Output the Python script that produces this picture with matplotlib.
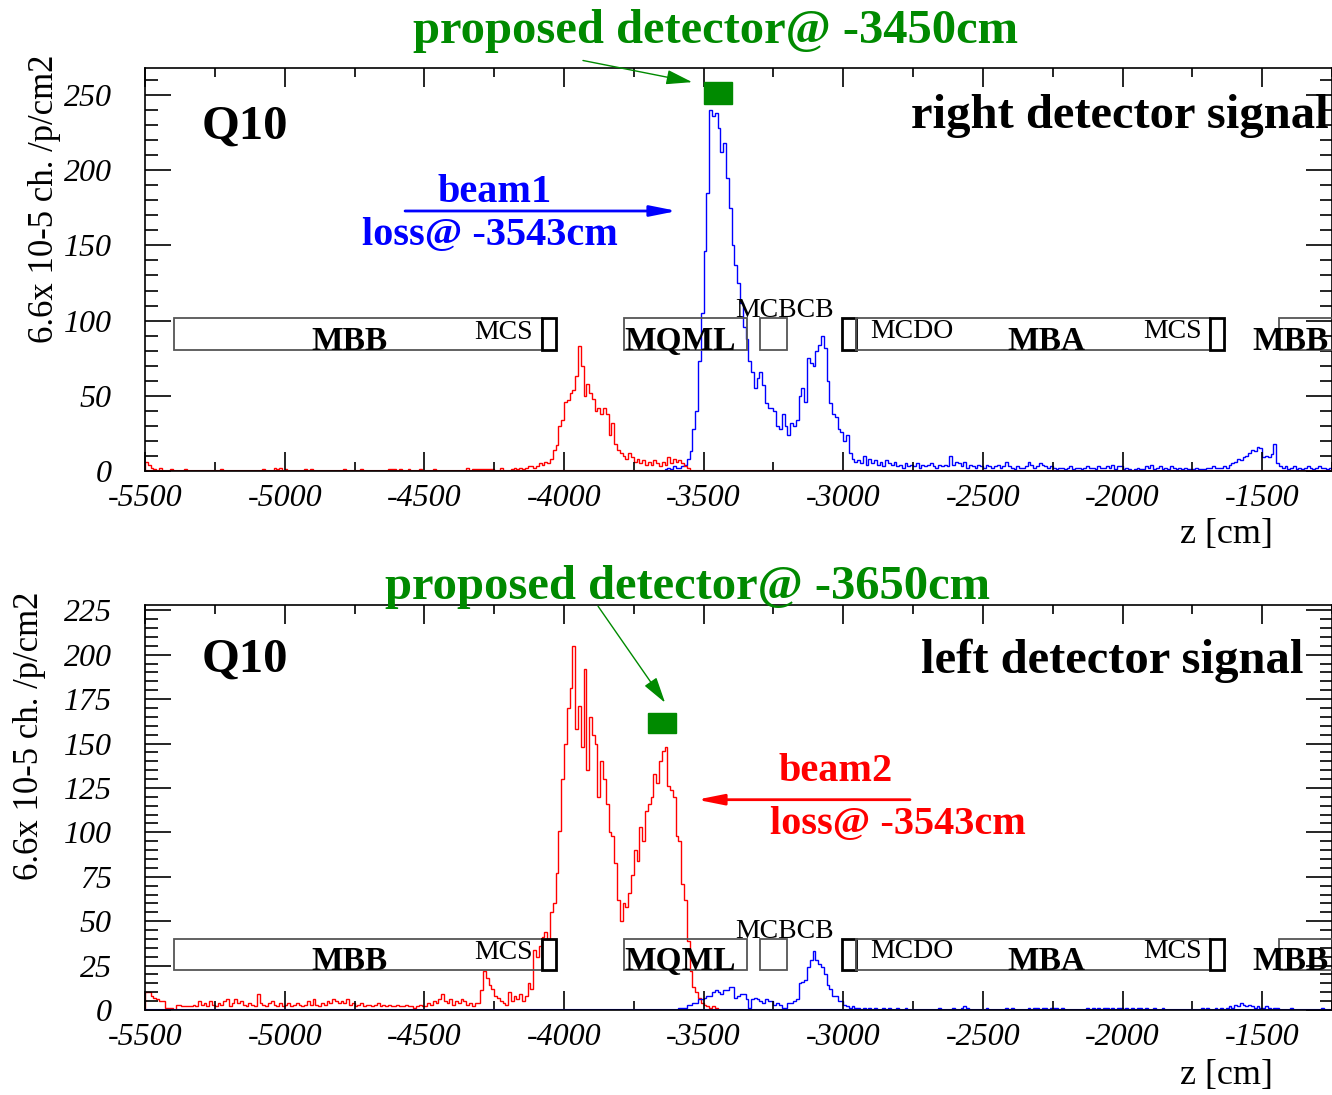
import numpy as np
import matplotlib.pyplot as plt
from matplotlib.patches import Rectangle
from matplotlib.ticker import MultipleLocator

plt.rcParams['font.family'] = ['Liberation Serif', 'DejaVu Serif']
plt.rcParams['axes.unicode_minus'] = False

# histogram bins along z, 10 cm wide
bin_w = 10
red_z0 = -5500
blue_z0 = -3650

# right detector, beam1 losses
red_top = [6, 4, 2, 1, 0, 2, 0, 0, 0, 1,
           0, 0, 0, 0, 1, 0, 0, 0, 0, 0,
           0, 0, 0, 0, 0, 0, 0, 1, 0, 0,
           0, 0, 0, 0, 0, 0, 0, 0, 0, 0,
           0, 0, 1, 0, 0, 0, 2, 1, 2, 0,
           1, 0, 0, 0, 0, 0, 0, 1, 0, 1,
           0, 0, 0, 0, 0, 0, 0, 0, 0, 0,
           0, 1, 0, 0, 0, 0, 0, 1, 0, 0,
           0, 0, 0, 0, 0, 0, 0, 1, 1, 1,
           0, 1, 0, 0, 1, 0, 0, 0, 1, 0,
           0, 0, 0, 1, 0, 0, 0, 0, 0, 0,
           0, 0, 0, 0, 0, 2, 0, 1, 1, 1,
           1, 1, 1, 1, 1, 0, 0, 2, 0, 0,
           0, 1, 2, 1, 2, 1, 2, 3, 3, 2,
           3, 5, 4, 6, 5, 8, 14, 17, 30, 34,
           46, 47, 52, 54, 63, 83, 70, 50, 58, 52,
           48, 40, 42, 38, 42, 38, 24, 32, 18, 14,
           12, 10, 8, 12, 9, 6, 8, 5, 7, 4,
           6, 4, 7, 5, 3, 6, 4, 9, 5, 8,
           6, 7, 5, 3, 2]
blue_top = [0, 1, 2, 1, 3, 2, 2, 3, 4, 8,
            13, 28, 40, 73, 105, 146, 185, 240, 236, 238,
            228, 212, 218, 195, 175, 150, 137, 125, 112, 96,
            88, 73, 66, 55, 62, 66, 57, 45, 42, 42,
            40, 30, 28, 38, 30, 24, 32, 30, 34, 50,
            55, 46, 75, 72, 70, 80, 84, 90, 82, 60,
            45, 38, 36, 28, 26, 20, 24, 12, 8, 6,
            7, 5, 10, 4, 8, 5, 7, 4, 6, 3,
            7, 5, 4, 6, 3, 4, 2, 5, 3, 4,
            3, 5, 2, 4, 3, 4, 5, 3, 2, 4,
            3, 4, 3, 10, 4, 6, 5, 3, 6, 2,
            4, 3, 2, 4, 3, 2, 4, 3, 2, 3,
            4, 2, 3, 6, 3, 2, 1, 3, 2, 2,
            3, 6, 4, 2, 3, 5, 4, 3, 2, 3,
            2, 1, 2, 2, 1, 2, 3, 1, 2, 2,
            1, 2, 3, 2, 2, 1, 3, 2, 2, 3,
            2, 4, 1, 3, 3, 1, 2, 1, 0, 1,
            2, 1, 1, 3, 2, 4, 1, 2, 3, 1,
            2, 1, 3, 2, 1, 2, 1, 2, 1, 1,
            1, 2, 1, 1, 1, 2, 2, 3, 2, 2,
            2, 3, 2, 4, 5, 6, 8, 7, 9, 10,
            12, 14, 13, 16, 15, 9, 10, 9, 11, 18,
            5, 3, 2, 3, 1, 2, 3, 1, 2, 1,
            2, 3, 2, 1, 2, 3, 2, 2, 1, 2]

# left detector, beam2 losses
red_bot = [10, 10, 8, 7, 6, 5, 5, 1, 1, 1,
           0, 3, 3, 2, 2, 2, 2, 3, 2, 5,
           3, 4, 2, 5, 3, 2, 4, 3, 5, 6,
           2, 4, 6, 4, 5, 3, 2, 4, 3, 2,
           9, 4, 3, 2, 4, 5, 3, 2, 4, 2,
           3, 4, 2, 3, 4, 3, 2, 3, 5, 3,
           6, 3, 2, 4, 3, 5, 4, 6, 5, 4,
           5, 4, 6, 3, 4, 2, 3, 4, 2, 3,
           3, 2, 3, 4, 2, 3, 2, 3, 2, 2,
           3, 2, 2, 3, 2, 2, 1, 2, 3, 2,
           2, 4, 3, 5, 4, 6, 9, 5, 4, 6,
           3, 5, 4, 6, 5, 3, 4, 2, 4, 4,
           11, 22, 18, 14, 12, 8, 7, 5, 4, 3,
           10, 5, 8, 6, 9, 5, 8, 15, 12, 34,
           30, 36, 41, 44, 40, 55, 60, 77, 101, 130,
           150, 170, 181, 205, 158, 171, 148, 192, 135, 165,
           155, 150, 120, 140, 130, 116, 100, 98, 83, 62,
           50, 60, 58, 66, 76, 90, 84, 103, 95, 112,
           116, 120, 133, 128, 140, 146, 148, 126, 124, 120,
           98, 95, 71, 62, 39, 22, 13, 10, 7, 4,
           3, 2, 1, 2, 1]
blue_bot = [0, 0, 0, 0, 0, 0, 1, 1, 1, 3,
            3, 4, 4, 6, 6, 7, 8, 8, 10, 11,
            10, 9, 11, 11, 13, 13, 7, 8, 9, 9,
            6, 1, 6, 7, 6, 5, 4, 6, 5, 5,
            3, 4, 3, 1, 1, 4, 4, 5, 6, 15,
            16, 17, 24, 28, 33, 28, 26, 24, 20, 14,
            12, 8, 8, 5, 5, 3, 2, 1, 2, 1,
            1, 0, 1, 0, 1, 0, 1, 0, 0, 1,
            0, 1, 0, 0, 1, 0, 0, 1, 0, 0,
            0, 0, 0, 0, 0, 0, 0, 0, 0, 1,
            0, 0, 0, 0, 1, 0, 0, 1, 2, 1,
            0, 0, 0, 0, 0, 0, 1, 0, 0, 0,
            0, 0, 0, 1, 0, 1, 0, 0, 0, 0,
            0, 1, 0, 1, 1, 0, 1, 1, 0, 1,
            1, 1, 0, 1, 0, 0, 0, 0, 0, 0,
            0, 0, 1, 0, 1, 0, 1, 0, 1, 1,
            0, 1, 0, 1, 1, 0, 1, 0, 1, 0,
            1, 1, 0, 1, 0, 0, 1, 0, 0, 1,
            0, 0, 0, 0, 0, 0, 0, 0, 0, 0,
            0, 0, 0, 1, 0, 1, 0, 0, 1, 0,
            1, 0, 1, 2, 1, 3, 2, 4, 3, 2,
            3, 2, 1, 2, 1, 1, 2, 1, 0, 1,
            1, 0, 0, 0, 0, 1, 0, 0, 0, 0,
            0, 0, 0, 0, 0, 0, 1, 0, 0, 0]

xticks = [-5500, -5000, -4500, -4000, -3500, -3000, -2500, -2000, -1500]
yticks_top = [0, 50, 100, 150, 200, 250]
yticks_bot = [0, 25, 50, 75, 100, 125, 150, 175, 200, 225]

# magnet boxes along z [cm]
mag_start = [-5396, -4079, -3785, -3298, -3004, -2954, -1687, -1440]
mag_end = [-4079, -4029, -3346, -3201, -2954, -1687, -1637, -1000]
mag_thick = [False, True, False, False, True, False, True, False]
# magnet names
lab_text = ['MBB', 'MCS', 'MQML', 'MCBCB', 'MCDO', 'MBA', 'MCS', 'MBB']
lab_z = [-4906, -4322, -3785, -3388, -2904, -2414, -1927, -1536]
lab_bold = [True, False, True, False, False, True, False, True]
lab_lift = [0, 0.35, 0, 1.03, 0.38, 0, 0.38, 0]

green = '#008a00'
ylab = '6.6x 10-5 ch. /p/cm2'


def setup(ax, ymax, yticks, box_lo, box_hi, ylab_x, zlab_y):
    ax.set_xlim(-5500, -1250)
    ax.set_ylim(0, ymax)
    ax.set_xticks(xticks, [str(t) for t in xticks], fontsize=23, fontstyle='italic')
    ax.set_yticks(yticks, [str(t) for t in yticks], fontsize=23, fontstyle='italic')
    ax.xaxis.set_minor_locator(MultipleLocator(250))
    ax.yaxis.set_minor_locator(MultipleLocator(yticks[1] / 5))
    ax.tick_params(which='both', direction='in', top=True, right=True, width=1.2)
    ax.tick_params(axis='x', which='major', length=14, pad=9.5)
    ax.tick_params(axis='x', which='minor', length=6.5)
    ax.tick_params(axis='y', which='major', length=19, pad=24)
    ax.tick_params(axis='y', which='minor', length=9)
    for s in ax.spines.values():
        s.set_linewidth(1.2)
    ax.set_ylabel(ylab, fontsize=25, loc='top')
    ax.yaxis.set_label_coords(ylab_x, 1.032)
    ax.set_xlabel('z [cm]', fontsize=26, loc='right')
    ax.xaxis.set_label_coords(0.950, zlab_y)

    for z0, z1, thick in zip(mag_start, mag_end, mag_thick):
        ax.add_patch(Rectangle((z0, box_lo), z1 - z0, box_hi - box_lo, fill=False,
                               ec='black' if thick else '#555555',
                               lw=2.0 if thick else 1.3, zorder=3))
    for name, z, bold, lift in zip(lab_text, lab_z, lab_bold, lab_lift):
        ax.text(z, box_lo + lift * (box_hi - box_lo), name,
                fontsize=24 if bold else 20, fontweight='bold' if bold else 'normal',
                ha='left', va='baseline', clip_on=True, zorder=4)


fig = plt.figure(figsize=(13.32, 10.95), dpi=100)
ax1 = fig.add_axes([0.1089, 0.5699, 0.8911, 0.3680])
ax2 = fig.add_axes([0.1089, 0.0776, 0.8911, 0.3699])

# top panel: right detector
setup(ax1, 268, yticks_top, 80.5, 101.7, -0.0708, -0.1166)
ax1.stairs(blue_top, blue_z0 + bin_w * np.arange(len(blue_top) + 1), color='blue', lw=1)
ax1.stairs(red_top, red_z0 + bin_w * np.arange(len(red_top) + 1), color='red', lw=1)
ax1.axhline(0, color='#b00000', lw=1.5)
ax1.add_patch(Rectangle((-3500, 244), 100, 15, color=green, zorder=5))
ax1.text(-3459, 284.7, 'proposed detector@ -3450cm', color=green, fontsize=35,
         fontweight='bold', ha='center', va='baseline')
ax1.annotate('', xy=(-3541, 258.6), xytext=(-3932, 273), annotation_clip=False,
             arrowprops=dict(arrowstyle='-|>,head_length=16,head_width=4.5', mutation_scale=1,
                             color=green, lw=1, shrinkA=0, shrinkB=0))
ax1.text(-4250, 178.8, 'beam1', color='blue', fontsize=29, fontweight='bold',
         ha='center', va='baseline')
ax1.text(-4265, 150.5, 'loss@ -3543cm', color='blue', fontsize=29, fontweight='bold',
         ha='center', va='baseline')
ax1.annotate('', xy=(-3595, 172.9), xytext=(-4569, 172.9),
             arrowprops=dict(arrowstyle='-|>,head_length=16,head_width=3.2', mutation_scale=1,
                             color='blue', lw=2, shrinkA=0, shrinkB=0))
ax1.text(0.048, 0.826, 'Q10', transform=ax1.transAxes, fontsize=35, fontweight='bold',
         va='baseline')
ax1.text(0.9975, 0.851, 'right detector signal', transform=ax1.transAxes, fontsize=35,
         fontweight='bold', ha='right', va='baseline')

# bottom panel: left detector
setup(ax2, 228, yticks_bot, 22.4, 40.2, -0.0834, -0.122)
ax2.stairs(red_bot, red_z0 + bin_w * np.arange(len(red_bot) + 1), color='red', lw=1)
ax2.stairs(blue_bot, blue_z0 + bin_w * np.arange(len(blue_bot) + 1), color='blue', lw=1)
ax2.axhline(0, color='blue', lw=1.5)
ax2.add_patch(Rectangle((-3700, 155.7), 100, 11.3, color=green, zorder=5))
ax2.text(-3556, 231.2, 'proposed detector@ -3650cm', color=green, fontsize=35,
         fontweight='bold', ha='center', va='baseline')
ax2.annotate('', xy=(-3638, 173), xytext=(-3878, 227.3), annotation_clip=False,
             arrowprops=dict(arrowstyle='-|>,head_length=16,head_width=4.5', mutation_scale=1,
                             color=green, lw=1, shrinkA=0, shrinkB=0))
ax2.text(-3026, 129, 'beam2', color='red', fontsize=29, fontweight='bold',
         ha='center', va='baseline')
ax2.text(-2804, 99.3, 'loss@ -3543cm', color='red', fontsize=29, fontweight='bold',
         ha='center', va='baseline')
ax2.annotate('', xy=(-3524, 118.4), xytext=(-2761, 118.4),
             arrowprops=dict(arrowstyle='-|>,head_length=16,head_width=3.2', mutation_scale=1,
                             color='red', lw=2, shrinkA=0, shrinkB=0))
ax2.text(0.048, 0.8345, 'Q10', transform=ax2.transAxes, fontsize=35, fontweight='bold',
         va='baseline')
ax2.text(0.9764, 0.8328, 'left detector signal', transform=ax2.transAxes, fontsize=35,
         fontweight='bold', ha='right', va='baseline')

fig.savefig('out.png', dpi=100)
